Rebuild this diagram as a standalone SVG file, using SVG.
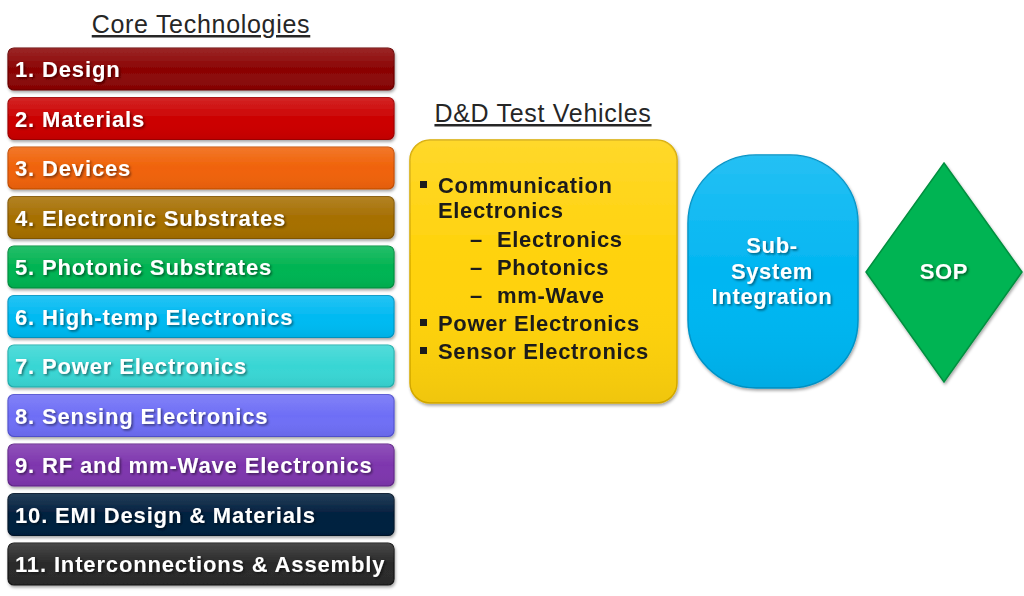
<svg xmlns="http://www.w3.org/2000/svg" width="1024" height="596" viewBox="0 0 1024 596">
<defs>
<style>
.title{font-family:"Liberation Sans",Arial,sans-serif;font-size:25px;letter-spacing:0.7px;fill:#262626;text-decoration:underline}
.bar{stroke-width:1.2}
.bt{font-family:"Liberation Sans",Arial,sans-serif;font-size:22px;letter-spacing:0.85px;font-weight:bold;fill:#ffffff;filter:url(#ts)}
.yt{font-family:"Liberation Sans",Arial,sans-serif;font-size:22px;letter-spacing:0.65px;font-weight:bold;fill:#1a1a1a}
.wt{font-family:"Liberation Sans",Arial,sans-serif;font-size:22px;letter-spacing:0.65px;font-weight:bold;fill:#ffffff;filter:url(#ts);text-anchor:middle}
</style>
<filter id="ts" x="-10%" y="-30%" width="120%" height="160%">
<feDropShadow dx="1.5" dy="1.5" stdDeviation="1" flood-color="#000" flood-opacity="0.5"/>
</filter>
<filter id="bs" x="-5%" y="-10%" width="110%" height="125%">
<feDropShadow dx="1" dy="2" stdDeviation="1.5" flood-color="#000" flood-opacity="0.35"/>
</filter>
<linearGradient id="gl" x1="0" y1="0" x2="0" y2="1">
<stop offset="0" stop-color="#fff" stop-opacity="0.14"/>
<stop offset="0.5" stop-color="#fff" stop-opacity="0"/>
<stop offset="1" stop-color="#000" stop-opacity="0.06"/>
</linearGradient>
</defs>
<rect width="1024" height="596" fill="#ffffff"/>
<text class="title" x="201" y="33" text-anchor="middle">Core Technologies</text>
<text class="title" x="543" y="122" text-anchor="middle">D&amp;D Test Vehicles</text>

<g id="bar1" filter="url(#bs)"><rect class="bar" x="8" y="48" width="386" height="42" rx="6" fill="#8B0404" stroke="#6a0202"/><rect x="8" y="48" width="386" height="42" rx="6" fill="url(#gl)"/><text class="bt" x="15" y="77">1. Design</text></g>
<g id="bar2" filter="url(#bs)"><rect class="bar" x="8" y="97.5" width="386" height="42" rx="6" fill="#CC0202" stroke="#a00000"/><rect x="8" y="97.5" width="386" height="42" rx="6" fill="url(#gl)"/><text class="bt" x="15" y="126.5">2. Materials</text></g>
<g id="bar3" filter="url(#bs)"><rect class="bar" x="8" y="147" width="386" height="42" rx="6" fill="#F06208" stroke="#c54e04"/><rect x="8" y="147" width="386" height="42" rx="6" fill="url(#gl)"/><text class="bt" x="15" y="176">3. Devices</text></g>
<g id="bar4" filter="url(#bs)"><rect class="bar" x="8" y="196.5" width="386" height="42" rx="6" fill="#A66F02" stroke="#845700"/><rect x="8" y="196.5" width="386" height="42" rx="6" fill="url(#gl)"/><text class="bt" x="15" y="225.5">4. Electronic Substrates</text></g>
<g id="bar5" filter="url(#bs)"><rect class="bar" x="8" y="246" width="386" height="42" rx="6" fill="#02B452" stroke="#008f3f"/><rect x="8" y="246" width="386" height="42" rx="6" fill="url(#gl)"/><text class="bt" x="15" y="275">5. Photonic Substrates</text></g>
<g id="bar6" filter="url(#bs)"><rect class="bar" x="8" y="295.5" width="386" height="42" rx="6" fill="#02BAF2" stroke="#0096c4"/><rect x="8" y="295.5" width="386" height="42" rx="6" fill="url(#gl)"/><text class="bt" x="15" y="324.5">6. High-temp Electronics</text></g>
<g id="bar7" filter="url(#bs)"><rect class="bar" x="8" y="345" width="386" height="42" rx="6" fill="#38D6D4" stroke="#22b0ae"/><rect x="8" y="345" width="386" height="42" rx="6" fill="url(#gl)"/><text class="bt" x="15" y="374">7. Power Electronics</text></g>
<g id="bar8" filter="url(#bs)"><rect class="bar" x="8" y="394.5" width="386" height="42" rx="6" fill="#6E6EF6" stroke="#5252d0"/><rect x="8" y="394.5" width="386" height="42" rx="6" fill="url(#gl)"/><text class="bt" x="15" y="423.5">8. Sensing Electronics</text></g>
<g id="bar9" filter="url(#bs)"><rect class="bar" x="8" y="444" width="386" height="42" rx="6" fill="#7E36AE" stroke="#62268a"/><rect x="8" y="444" width="386" height="42" rx="6" fill="url(#gl)"/><text class="bt" x="15" y="473">9. RF and mm-Wave Electronics</text></g>
<g id="bar10" filter="url(#bs)"><rect class="bar" x="8" y="493.5" width="386" height="42" rx="6" fill="#02203F" stroke="#011428"/><rect x="8" y="493.5" width="386" height="42" rx="6" fill="url(#gl)"/><text class="bt" x="15" y="522.5">10. EMI Design &amp; Materials</text></g>
<g id="bar11" filter="url(#bs)"><rect class="bar" x="8" y="543" width="386" height="42" rx="6" fill="#2A2A2A" stroke="#151515"/><rect x="8" y="543" width="386" height="42" rx="6" fill="url(#gl)"/><text class="bt" x="15" y="572">11. Interconnections &amp; Assembly</text></g>

<g id="testvehicles" filter="url(#bs)">
<rect x="410" y="140" width="267" height="263" rx="20" fill="#FFD208" stroke="#d8ac00" stroke-width="1.5"/>
<rect x="410" y="140" width="267" height="263" rx="20" fill="url(#gl)"/>
<rect x="420" y="181" width="7" height="7" fill="#1a1a1a"/>
<text class="yt" x="438" y="193">Communication</text>
<text class="yt" x="438" y="218">Electronics</text>
<text class="yt" x="470" y="247">–</text><text class="yt" x="497" y="247">Electronics</text>
<text class="yt" x="470" y="275">–</text><text class="yt" x="497" y="275">Photonics</text>
<text class="yt" x="470" y="303">–</text><text class="yt" x="497" y="303">mm-Wave</text>
<rect x="420" y="319" width="7" height="7" fill="#1a1a1a"/>
<text class="yt" x="438" y="331">Power Electronics</text>
<rect x="420" y="347" width="7" height="7" fill="#1a1a1a"/>
<text class="yt" x="438" y="359">Sensor Electronics</text>
</g>

<g id="subsystem" filter="url(#bs)">
<rect x="688" y="155" width="170" height="233" rx="68" ry="68" fill="#02B6F2" stroke="#0094c8" stroke-width="1.5"/>
<rect x="688" y="155" width="170" height="233" rx="68" ry="68" fill="url(#gl)"/>
<text class="wt" x="772" y="253">Sub-</text>
<text class="wt" x="772" y="279">System</text>
<text class="wt" x="772" y="304">Integration</text>
</g>

<g id="sop" filter="url(#bs)">
<polygon points="944,163 1022,272 944,382 866,272" fill="#02B452" stroke="#008f3f" stroke-width="1.5"/>
<text class="wt" x="944" y="279">SOP</text>
</g>
<g id="connectors"/>
</svg>
